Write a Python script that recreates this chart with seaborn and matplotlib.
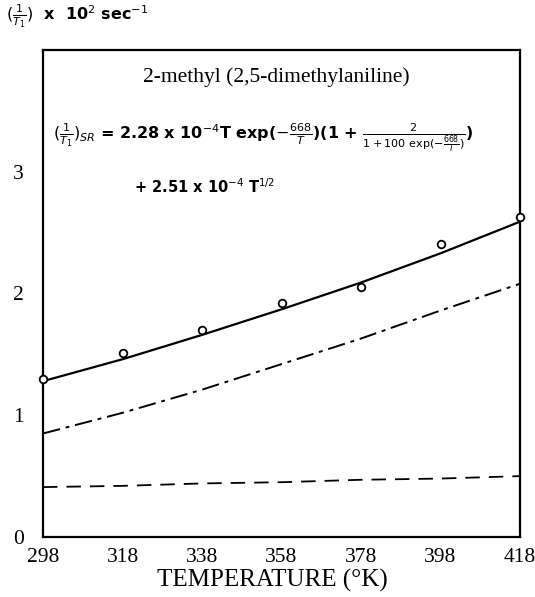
import numpy as np
import pandas as pd
import seaborn as sns
import matplotlib.pyplot as plt

# values
temps = [298, 318, 338, 358, 378, 398, 418]
observed = [1.30, 1.51, 1.70, 1.92, 2.05, 2.41, 2.63]
total_curve = [1.28, 1.46, 1.66, 1.87, 2.09, 2.33, 2.59]
exp_term = [0.85, 1.02, 1.21, 1.42, 1.63, 1.86, 2.08]
sqrt_term = [0.41, 0.42, 0.44, 0.45, 0.47, 0.48, 0.50]
xticks = [298, 318, 338, 358, 378, 398, 418]
yticks = [0, 1, 2, 3]

df = pd.DataFrame({'T': temps, 'obs': observed, 'total': total_curve,
                   'exp': exp_term, 'sqrt': sqrt_term})

sns.set_style("white")
plt.rcParams['font.family'] = ['Liberation Serif', 'DejaVu Serif']
plt.rcParams['mathtext.fontset'] = 'dejavusans'
plt.rcParams['text.color'] = 'black'

fig = plt.figure(figsize=(5.35, 5.97), dpi=100)
ax = fig.add_axes([43 / 535, 1 - 537 / 597, 477 / 535, 487 / 597])

sns.lineplot(data=df, x='T', y='total', ax=ax, color='black', lw=1.6)
sns.lineplot(data=df, x='T', y='exp', ax=ax, color='black', lw=1.4,
             linestyle=(0, (9, 3, 2, 3)))
sns.lineplot(data=df, x='T', y='sqrt', ax=ax, color='black', lw=1.3,
             linestyle=(0, (8, 5)))
sns.scatterplot(data=df, x='T', y='obs', ax=ax, marker='o', s=30,
                facecolor='white', edgecolor='black', linewidth=1.3,
                zorder=5, clip_on=False)

ax.set_xlim(298, 418)
ax.set_ylim(0, 4)
ax.set_xticks(xticks)
ax.set_yticks(yticks)
ax.tick_params(direction='in', length=4, width=1, labelsize=15.5,
               colors='black')
ax.tick_params(axis='x', pad=8)
ax.tick_params(axis='y', pad=14)
for s in ax.spines.values():
    s.set_visible(True)
    s.set_color('black')
    s.set_linewidth(1.6)

ax.set_xlabel("")
ax.set_ylabel("")
fig.text(272 / 535, 1 - 580 / 597, "TEMPERATURE (°K)", fontsize=18,
         ha='center', va='center')

fig.text(6 / 535, 1 - 16 / 597, r"$(\frac{1}{T_1})$  x  10$^2$ sec$^{-1}$",
         fontsize=11.5, family='DejaVu Sans', weight='bold', va='center')

ax.text(0.49, 0.965, "2-methyl (2,5-dimethylaniline)", transform=ax.transAxes,
        ha='center', va='top', fontsize=15.5)
ax.text(0.02, 0.82,
        r"$(\frac{1}{T_1})_{SR}$ = 2.28 x 10$^{-4}$T exp($-\frac{668}{T}$)(1 + $\frac{2}{1 + 100\ \exp(-\frac{668}{T})}$)",
        transform=ax.transAxes, ha='left', va='center', fontsize=11.5,
        family='DejaVu Sans', weight='bold')
ax.text(0.19, 0.72, r"+ 2.51 x 10$^{-4}$ T$^{1/2}$", transform=ax.transAxes,
        ha='left', va='center', fontsize=10.5, family='DejaVu Sans',
        weight='bold')

fig.savefig("out.png", dpi=100)
